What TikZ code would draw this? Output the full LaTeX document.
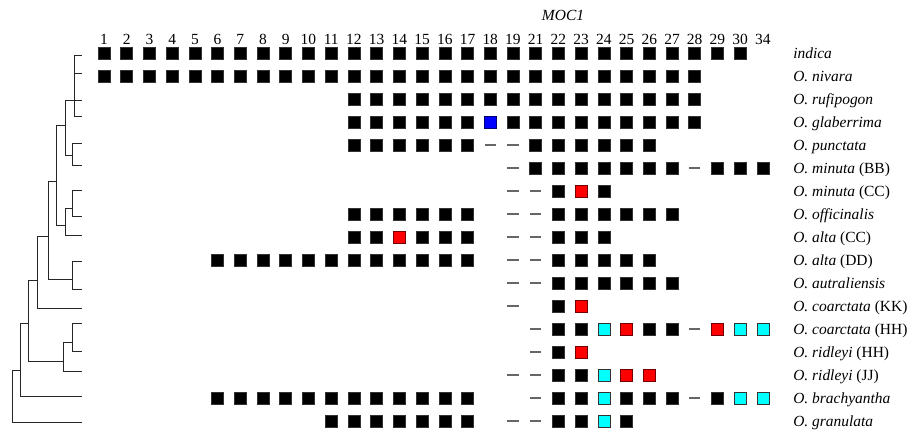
\documentclass[tikz,border=0pt]{standalone}
\usepackage{fontspec}
\setmainfont{Liberation Serif}
\definecolor{aqua}{RGB}{0,255,255}
\definecolor{pure red}{RGB}{255,0,0}
\definecolor{pure blue}{RGB}{0,0,255}

\begin{document}
\begin{tikzpicture}[
    x=0.025cm, y=-0.025cm,
    sq/.style={draw, line width=0.4pt, minimum size=0.3cm, inner sep=0pt},
    sqk/.style={sq, fill=black, draw=black!80},
    sqr/.style={sq, fill=pure red, draw=pure red!45!black},
    sqc/.style={sq, fill=aqua, draw=black!80},
    sqb/.style={sq, fill=pure blue, draw=pure blue!45!black},
    miss/.style={fill=black!60, minimum width=0.28cm, minimum height=0.045cm, inner sep=0pt},
    txt/.style={font=\fontsize{11pt}{13pt}\selectfont, inner sep=0pt},
    tree/.style={line width=0.6pt, black!85}
]
    \useasboundingbox (0,0) rectangle (910,430);

    % exon numbers
    \node[txt, anchor=base] (gene) at (563,20) {\textit{MOC1}};
    \foreach \lab [count=\i from 0] in {1,2,3,4,5,6,7,8,9,10,11,12,13,14,15,16,17,18,19,21,22,23,24,25,26,27,28,29,30,34}
        \node[txt, anchor=base] (h\i) at ({104+\i*22.72},44) {\lab};

    % cells: row/first/last/style
    \foreach \r/\a/\b/\sty in {0/0/28/sqk, 1/0/26/sqk, 2/11/26/sqk,
        3/11/16/sqk, 3/17/17/sqb, 3/18/26/sqk,
        4/11/16/sqk, 4/17/18/miss, 4/19/24/sqk,
        5/18/18/miss, 5/19/25/sqk, 5/26/26/miss, 5/27/29/sqk,
        6/18/19/miss, 6/20/20/sqk, 6/21/21/sqr, 6/22/22/sqk,
        7/11/16/sqk, 7/18/19/miss, 7/20/25/sqk,
        8/11/12/sqk, 8/13/13/sqr, 8/14/16/sqk, 8/18/19/miss, 8/20/22/sqk,
        9/5/16/sqk, 9/18/19/miss, 9/20/24/sqk,
        10/18/19/miss, 10/20/25/sqk,
        11/18/18/miss, 11/20/20/sqk, 11/21/21/sqr,
        12/19/19/miss, 12/20/21/sqk, 12/22/22/sqc, 12/23/23/sqr, 12/24/25/sqk,
        12/26/26/miss, 12/27/27/sqr, 12/28/29/sqc,
        13/19/19/miss, 13/20/20/sqk, 13/21/21/sqr,
        14/18/19/miss, 14/20/21/sqk, 14/22/22/sqc, 14/23/24/sqr,
        15/5/16/sqk, 15/19/19/miss, 15/20/21/sqk, 15/22/22/sqc, 15/23/25/sqk,
        15/26/26/miss, 15/27/27/sqk, 15/28/29/sqc,
        16/10/16/sqk, 16/18/19/miss, 16/20/21/sqk, 16/22/22/sqc, 16/23/23/sqk}
        \foreach \c in {\a,...,\b}
            \node[\sty] (c\r-\c) at ({104+\c*22.72},{53+\r*23}) {};

    % species
    \foreach \nm [count=\r from 0] in {\textit{indica}, \textit{O. nivara}, \textit{O. rufipogon},
        \textit{O. glaberrima}, \textit{O. punctata}, \textit{O. minuta} (BB), \textit{O. minuta} (CC),
        \textit{O. officinalis}, \textit{O. alta} (CC), \textit{O. alta} (DD), \textit{O. autraliensis},
        \textit{O. coarctata} (KK), \textit{O. coarctata} (HH), \textit{O. ridleyi} (HH),
        \textit{O. ridleyi} (JJ), \textit{O. brachyantha}, \textit{O. granulata}}
        \node[txt, anchor=base west] (s\r) at (793,{58+\r*23}) {\nm};

    % tree
    \foreach \y [count=\k] in {55.7,73.3,100,116,143.3,165.3,190,216.7,235,261.7,289,308,323.3,351.7,371.7,396.7,422.7}
        \coordinate (L\k) at (82,\y);
    \coordinate (nA) at (74,100);
    \coordinate (nB) at (65,125);
    \coordinate (nC) at (72.7,155);
    \coordinate (nD) at (56,181.7);
    \coordinate (nE) at (65,225);
    \coordinate (nF) at (72.7,208);
    \coordinate (nG) at (48,236);
    \coordinate (nH) at (72.7,279.3);
    \coordinate (nI) at (37.7,280.7);
    \coordinate (nJ) at (28.7,323.3);
    \coordinate (nK) at (72.7,342.3);
    \coordinate (nL) at (63.3,361.7);
    \coordinate (nM) at (20,370);
    \coordinate (nR) at (12.7,400);
    \foreach \p/\q in {nA/L1, nA/L2, nA/L3, nA/L4, nB/nA, nB/nC, nC/L5, nC/L6,
        nD/nB, nD/nE, nE/nF, nE/L9, nF/L7, nF/L8, nG/nD, nG/nH, nH/L10, nH/L11,
        nI/nG, nI/L12, nJ/nI, nJ/nL, nK/L13, nK/L14, nL/nK, nL/L15,
        nM/nJ, nM/L16, nR/nM, nR/L17}
        \draw[tree] (\p) |- (\q);
\end{tikzpicture}
\end{document}
